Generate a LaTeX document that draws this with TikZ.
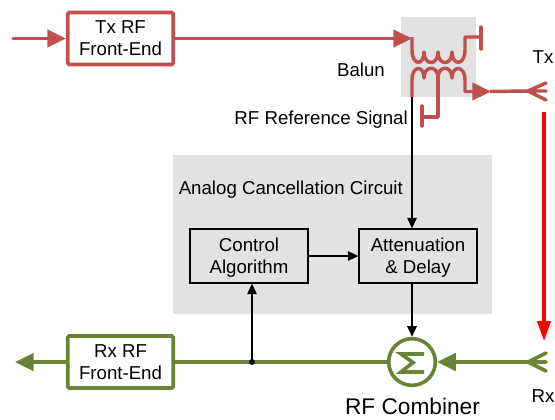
\documentclass[tikz,border=0pt]{standalone}
\usepackage{fontspec}
\setmainfont{Liberation Sans}
\usetikzlibrary{arrows.meta}
\definecolor{txred}{HTML}{C0504D}
\definecolor{rxgreen}{HTML}{6A8236}
\definecolor{panelgray}{HTML}{E2E2E2}
\tikzset{
  txbox/.style={draw=txred,line width=2.8pt,fill=white,rounded corners=1pt,minimum width=79pt,minimum height=39pt,inner sep=0pt,align=center,font=\fontsize{14}{16.5}\selectfont},
  rxbox/.style={txbox,draw=rxgreen},
  ctrlbox/.style={draw=black,line width=1.3pt,minimum width=88pt,minimum height=40pt,inner sep=0pt,align=center,text depth=0pt,font=\fontsize{14}{16.5}\selectfont},
  label/.style={inner sep=0pt,font=\fontsize{14}{17}\selectfont},
  txline/.style={draw=txred,line width=2.6pt},
  rxline/.style={draw=rxgreen,line width=2.7pt},
  sigline/.style={draw=black,line width=1.4pt},
  txtip/.style={-{Triangle[length=14pt,width=13pt]}},
  rxtip/.style={-{Triangle[length=14pt,width=13pt]}},
  sigtip/.style={-{Triangle[length=8pt,width=7pt]}},
}
\begin{document}
\begin{tikzpicture}[x=0.75pt,y=-0.75pt]
        \useasboundingbox (0,0) rectangle (555,419);
        \fill[panelgray] (173,155) rectangle (492,314); % cancellation panel
        \fill[panelgray] (401,17) rectangle (476,97); % balun panel
        \node[txbox] (txrf) at (120.5,38.5) {Tx RF\\Front-End};
        \node[rxbox] (rxrf) at (120.5,362) {Rx RF\\Front-End};
        \node[ctrlbox] (control) at (249,256) {Control\\Algorithm};
        \node[ctrlbox] (atten) at (418,256) {Attenuation\\\& Delay};
        \node[circle,draw=rxgreen,line width=2.7pt,fill=white,minimum size=35pt,inner sep=0pt] (combiner) at (412,362) {};
        \coordinate (txin) at (13,38.5);
        \coordinate (pri) at (412,38.5);
        \coordinate (sec) at (412,97);
        \coordinate (txant) at (528,91);
        \coordinate (rxant) at (528,362);
        \coordinate (rxout) at (15,362);
        \coordinate (tap) at (252,362);
        \coordinate (redtop) at (544,112);
        \coordinate (redtip) at (544,341);
        \path[txline,txtip,line cap=round] (txin) -- (txrf.west);
        \path[txline,txtip] (txrf.east) -- (pri);
        % primary winding
        \draw[txline,line join=round] (412,37) -- (412,50) .. controls (412,66) and (424,66) .. (424,52)
        .. controls (424,66) and (438,66) .. (438,52) .. controls (438,66) and (452,66) .. (452,52)
        .. controls (452,66) and (465,66) .. (465,50) -- (465,37) -- (481,37);
        \draw[txline,line cap=round] (481,27) -- (481,49);
        % secondary winding
        \draw[txline,line join=round] (412,97) -- (412,80) .. controls (412,65) and (424,65) .. (424,78)
        .. controls (424,65) and (438,65) .. (438,78) .. controls (438,65) and (452,65) .. (452,78)
        .. controls (452,65) and (465,65) .. (465,80) -- (465,91.5) -- (473,91.5);
        \draw[txline,line join=round] (438,72) -- (438,117) -- (422,117);
        \draw[txline,line cap=round] (422,106) -- (422,126);
        \coordinate (secend) at (472,91.5);
        \path[txline,txtip] (secend) -- (491,91.5);
        % antennas
        \draw[txline] (490,91.5) -- (txant);
        \draw[txline,line cap=round,line join=round] (546,83) -- (txant) -- (546,100) (txant) -- (546,91);
        \path[rxline,rxtip] (rxant) -- (combiner.east);
        \draw[rxline,line cap=round,line join=round] (546,353) -- (rxant) -- (546,371) (rxant) -- (546,362);
        \path[draw=red,line width=2.4pt,-{Triangle[length=15pt,width=10pt]}] (redtop) -- (redtip);
        % rx path
        \draw[rxline] (combiner.west) -- (rxrf.east);
        \path[rxline,rxtip] (rxrf.west) -- (rxout);
        \draw[rxline,line join=miter] (424,354) -- (401,354) -- (413,362.5) -- (401,372) -- (424,372); % sigma
        % reference signal
        \path[sigline,sigtip] (sec) -- (sec |- atten.north);
        \path[sigline,sigtip] (atten.south -| combiner) -- (combiner.north);
        \path[sigline,sigtip] (control) -- (atten) ;
        \path[sigline,sigtip] (tap) -- (tap |- control.south);
        \fill (tap) circle (2.2pt);
        \node[label,anchor=east] (refsig) at (408,119.5) {RF Reference Signal};
        \node[label] (balun) at (361,70) {Balun};
        \node[label,anchor=west] (panel) at (178.5,190) {Analog Cancellation Circuit};
        \node[label] (txlab) at (543,57.5) {Tx};
        \node[label] (rxlab) at (543,396.5) {Rx};
        \node[inner sep=0pt,font=\fontsize{17}{20}\selectfont] (rfcomb) at (412.5,406) {RF Combiner};
      \end{tikzpicture}
\end{document}
